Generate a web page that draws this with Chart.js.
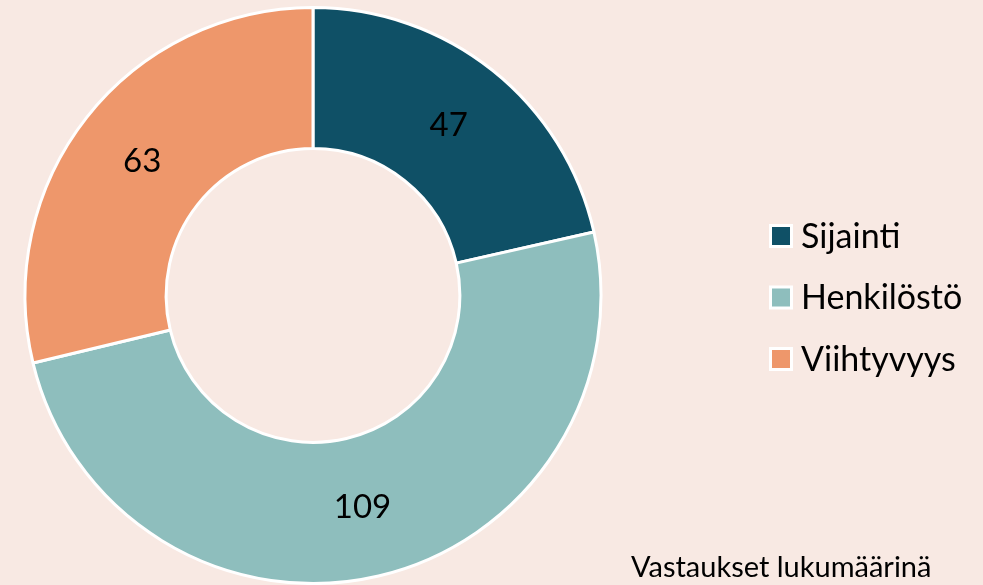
<!DOCTYPE html>
<html>
<head>
<meta charset="utf-8">
<script src="https://cdn.jsdelivr.net/npm/chart.js@4"></script>
<style>
  html, body { margin: 0; padding: 0; background: #F8E9E3; }
  #wrap { position: relative; width: 983px; height: 585px; }
  canvas { display: block; }
</style>
</head>
<body>
<div id="wrap"><canvas id="c" width="983" height="585"></canvas></div>
<script>
const categories = ['Sijainti', 'Henkilöstö', 'Viihtyvyys'];
const values = [47, 109, 63];
const colors = ['#0F5066', '#8EBEBD', '#EE976B'];
const note = 'Vastaukset lukumäärinä';
const FONT = 'Lato, "Open Sans", sans-serif';

const labelPlugin = {
  id: 'labels',
  afterDatasetsDraw(chart) {
    const ctx = chart.ctx;
    const meta = chart.getDatasetMeta(0);
    ctx.save();
    ctx.font = '33px ' + FONT;
    ctx.fillStyle = '#000';
    ctx.textAlign = 'center';
    ctx.textBaseline = 'middle';
    meta.data.forEach((arc, i) => {
      const p = arc.tooltipPosition();
      ctx.fillText(String(values[i]), p.x, p.y);
    });
    ctx.restore();
  }
};

const legendPlugin = {
  id: 'customLegend',
  afterDraw(chart) {
    const ctx = chart.ctx;
    ctx.save();
    const x0 = 769, y0 = 236, step = 61.5;
    categories.forEach((c, i) => {
      const cy = y0 + i * step;
      ctx.fillStyle = '#FFFFFF';
      ctx.fillRect(x0, cy - 12, 24, 24);
      ctx.fillStyle = colors[i];
      ctx.fillRect(x0 + 3, cy - 9, 18, 18);
      ctx.fillStyle = '#000';
      ctx.font = '34px ' + FONT;
      ctx.textAlign = 'left';
      ctx.textBaseline = 'middle';
      ctx.fillText(c, 801, cy + 1);
    });
    ctx.font = '29px ' + FONT;
    ctx.textAlign = 'left';
    ctx.textBaseline = 'alphabetic';
    ctx.fillText(note, 631, 577);
    ctx.restore();
  }
};

new Chart(document.getElementById('c'), {
  type: 'doughnut',
  data: {
    labels: categories,
    datasets: [{
      data: values,
      backgroundColor: colors,
      borderColor: '#FFFFFF',
      borderWidth: 3,
      hoverOffset: 0
    }]
  },
  options: {
    responsive: false,
    animation: false,
    cutout: '51%',
    layout: { padding: { left: 23, top: 6, right: 380, bottom: -1 } },
    plugins: {
      legend: { display: false },
      tooltip: { enabled: false }
    }
  },
  plugins: [labelPlugin, legendPlugin]
});
</script>
</body>
</html>
